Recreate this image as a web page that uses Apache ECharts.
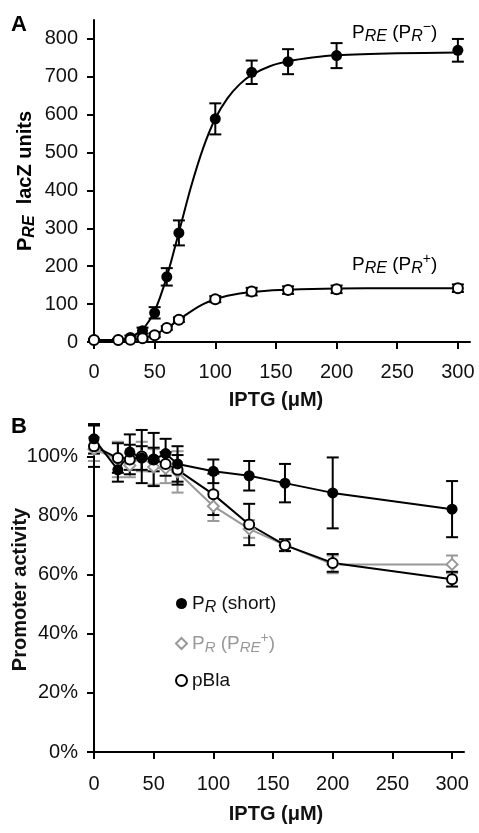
<!DOCTYPE html>
<html><head><meta charset="utf-8">
<script src="https://cdn.jsdelivr.net/npm/echarts@6/dist/echarts.min.js"></script>
<style>html,body{margin:0;padding:0;background:#fff}#c{width:479px;height:833px}</style>
</head><body><div id="c"></div>
<script>
// ---- data ----
const iptg = [0, 20, 30, 40, 50, 60, 70, 100, 130, 160, 200, 300];
const xTicks = [0, 50, 100, 150, 200, 250, 300];
const aTicks = [0, 100, 200, 300, 400, 500, 600, 700, 800];
const bTicks = [0, 20, 40, 60, 80, 100];
// Panel A: PRE lacZ units (measured points)
const preMinus = [5, 5, 12, 30, 77, 172, 288, 589, 712, 740, 756, 770];
const preMinusErr = [3, 3, 5, 8, 15, 23, 33, 41, 31, 33, 33, 30];
const prePlus = [5, 5, 6, 10, 18, 37, 59, 113, 133, 137, 139, 142];
const prePlusErr = [3, 3, 3, 4, 5, 5, 6, 8, 10, 10, 10, 10];
// Panel A: fitted curves
const fitX = [0, 10, 20, 30, 40, 50, 60, 70, 80, 90, 100, 110, 120, 130, 145, 160, 180, 200, 250, 300];
const fitMinus = [5, 5, 6, 13, 33, 82, 172, 290, 410, 512, 590, 643, 680, 705, 728, 741, 751, 757, 762, 764];
const fitPlus = [5, 5, 5, 6, 10, 20, 37, 59, 81, 100, 113, 122, 128, 132, 136, 138, 140, 141, 142, 142];
// Panel B: promoter activity (%)
const prShort = [106, 95.5, 101.5, 99.5, 99, 101, 97.5, 95, 93.5, 91, 87.7, 82.2];
const prShortErr = [5, 4, 6, 4, 4, 5, 6, 4, 5, 6.5, 12, 9.5];
const prPre = [102.5, 99, 97, 100, 96.5, 96, 94.8, 83.2, 75.5, 70, 63.5, 63.5];
const prPreErr = [4, 6, 4, 5, 6, 5, 7, 5, 3, 2, 3, 3];
const pBla = [103.5, 99.5, 99, 100, 99, 97.5, 95.5, 87.2, 77, 70, 64, 58.5];
const pBlaErr = [7, 5, 5, 9, 9, 4, 5, 7, 7, 2, 3, 2.5];

const FONT = "'Liberation Sans', Arial, sans-serif";
const TXT = '#111';
const GRAY = '#999';

const pts = v => iptg.map((x, i) => [x, v[i]]);
const fitPts = v => fitX.map((x, i) => [x, v[i]]);
const errs = (v, e) => iptg.map((x, i) => [x, v[i] - e[i], v[i] + e[i]]);

function errRender(color) {
  return function (params, api) {
    const x = api.value(0), lo = api.value(1), hi = api.value(2);
    const p1 = api.coord([x, hi]), p2 = api.coord([x, lo]);
    const w = 6;
    const st = { stroke: color, lineWidth: 2 };
    return {
      type: 'group', children: [
        { type: 'line', shape: { x1: p1[0], y1: p1[1], x2: p2[0], y2: p2[1] }, style: st },
        { type: 'line', shape: { x1: p1[0] - w, y1: p1[1], x2: p1[0] + w, y2: p1[1] }, style: st },
        { type: 'line', shape: { x1: p2[0] - w, y1: p2[1], x2: p2[0] + w, y2: p2[1] }, style: st }
      ]
    };
  };
}
function errSeries(idx, v, e, color, z) {
  return {
    type: 'custom', xAxisIndex: idx, yAxisIndex: idx, data: errs(v, e),
    encode: { x: 0, y: [1, 2] }, renderItem: errRender(color), z: z, silent: true
  };
}

function rich(size, sub, bold, color) {
  const w = bold ? 'bold' : 'normal';
  const o = { fontFamily: FONT, fontWeight: w };
  if (color) o.color = color;
  return {
    n: Object.assign({ fontSize: size, lineHeight: 26 }, o),
    s: Object.assign({ fontSize: sub, fontStyle: 'italic', lineHeight: sub, padding: [9, 0, 0, 0] }, o),
    p: Object.assign({ fontSize: sub - 2, lineHeight: sub - 2, padding: [0, 0, 11, 0] }, o)
  };
}

const axisCommon = {
  axisLine: { lineStyle: { color: '#000', width: 2 } },
  axisTick: { inside: false, length: 7, lineStyle: { color: '#000', width: 2 } },
  splitLine: { show: false },
  nameMoveOverlap: false
};

function xAx(idx, margin, nameGap, pad) {
  return Object.assign({}, axisCommon, {
    type: 'value', gridIndex: idx, min: 0, max: 310,
    axisTick: Object.assign({}, axisCommon.axisTick, { customValues: xTicks }),
    axisLabel: { customValues: xTicks, fontSize: 20, color: TXT, fontFamily: FONT, margin: margin },
    name: 'IPTG (\u03bcM)', nameLocation: 'middle', nameGap: nameGap,
    nameTextStyle: { fontSize: 20, fontWeight: 'bold', color: TXT, fontFamily: FONT, padding: pad }
  });
}

const option = {
  backgroundColor: '#fff',
  animation: false,
  grid: [
    { left: 94, top: 20, width: 376, height: 322, containLabel: false, outerBoundsMode: 'none' },
    { left: 94, top: 427, width: 370, height: 325, containLabel: false, outerBoundsMode: 'none' }
  ],
  xAxis: [xAx(0, 20, 48, [0, 12, 0, 0]), xAx(1, 22, 52, [0, 6, 0, 0])],
  yAxis: [
    Object.assign({}, axisCommon, {
      type: 'value', gridIndex: 0, min: 0, max: 850,
      axisTick: Object.assign({}, axisCommon.axisTick, { customValues: aTicks }),
      axisLabel: { customValues: aTicks, fontSize: 20, color: TXT, fontFamily: FONT, margin: 16 },
      name: '{n|P}{s|RE}{n|  lacZ units}', nameLocation: 'middle', nameGap: 56,
      nameTextStyle: { rich: rich(20, 16, true) }
    }),
    Object.assign({}, axisCommon, {
      type: 'value', gridIndex: 1, min: 0, max: 110,
      axisTick: Object.assign({}, axisCommon.axisTick, { customValues: bTicks }),
      axisLabel: { customValues: bTicks, fontSize: 20, color: TXT, fontFamily: FONT, margin: 16, formatter: '{value}%' },
      name: 'Promoter activity', nameLocation: 'middle', nameGap: 64,
      nameTextStyle: { fontSize: 20, fontWeight: 'bold', color: TXT, fontFamily: FONT }
    })
  ],
  legend: {
    left: 170, top: 586, orient: 'vertical', itemWidth: 11, itemHeight: 11, itemGap: 15,
    selectedMode: false,
    data: [
      { name: 'P_R (short)', icon: 'circle', textStyle: { color: TXT } },
      { name: 'P_R (P_RE+)', icon: 'diamond', textStyle: { color: GRAY } },
      { name: 'pBla', icon: 'circle', textStyle: { color: TXT } }
    ],
    formatter: function (name) {
      if (name === 'P_R (short)') return '{n|P}{s|R}{n| (short)}';
      if (name === 'P_R (P_RE+)') return '{g|P}{gs|R}{g| (P}{gs|RE}{gp|+}{g|)}';
      return '{n|pBla}';
    },
    textStyle: {
      fontSize: 19, fontFamily: FONT,
      rich: Object.assign(rich(19, 16, false, TXT), {
        g: { fontSize: 19, lineHeight: 26, color: GRAY, fontFamily: FONT },
        gs: { fontSize: 15, fontStyle: 'italic', lineHeight: 15, padding: [9, 0, 0, 0], color: GRAY, fontFamily: FONT },
        gp: { fontSize: 14, lineHeight: 14, padding: [0, 0, 11, 0], color: GRAY, fontFamily: FONT }
      })
    }
  },
  graphic: [
    { type: 'text', left: 11, top: 14, style: { text: 'A', fontSize: 22, fontWeight: 'bold', fill: '#000', fontFamily: FONT } },
    { type: 'text', left: 11, top: 416, style: { text: 'B', fontSize: 22, fontWeight: 'bold', fill: '#000', fontFamily: FONT } },
    { type: 'text', left: 352, top: 20, style: { text: '{n|P}{s|RE}{n| (P}{s|R}{p|\u2212}{n|)}', rich: rich(19, 16, false, TXT) } },
    { type: 'text', left: 352, top: 252, style: { text: '{n|P}{s|RE}{n| (P}{s|R}{p|+}{n|)}', rich: rich(19, 16, false, TXT) } }
  ],
  series: [
    // Panel A
    errSeries(0, preMinus, preMinusErr, '#000', 2),
    errSeries(0, prePlus, prePlusErr, '#000', 2),
    { type: 'line', name: 'fitMinus', xAxisIndex: 0, yAxisIndex: 0, data: fitPts(fitMinus), smooth: 0.3,
      showSymbol: false, lineStyle: { color: '#000', width: 2 }, z: 3, silent: true },
    { type: 'line', name: 'fitPlus', xAxisIndex: 0, yAxisIndex: 0, data: fitPts(fitPlus), smooth: 0.3,
      showSymbol: false, lineStyle: { color: '#000', width: 2 }, z: 3, silent: true },
    { type: 'scatter', name: 'PRE (PR-)', xAxisIndex: 0, yAxisIndex: 0, data: pts(preMinus), symbol: 'circle', symbolSize: 11,
      itemStyle: { color: '#000', opacity: 1 }, z: 5 },
    { type: 'scatter', name: 'PRE (PR+)', xAxisIndex: 0, yAxisIndex: 0, data: pts(prePlus), symbol: 'circle', symbolSize: 10,
      itemStyle: { color: '#fff', borderColor: '#000', borderWidth: 2, opacity: 1 }, z: 6 },
    // Panel B
    errSeries(1, prPre, prPreErr, GRAY, 2),
    errSeries(1, pBla, pBlaErr, '#000', 2),
    errSeries(1, prShort, prShortErr, '#000', 2),
    { type: 'line', name: 'linePre', xAxisIndex: 1, yAxisIndex: 1, data: pts(prPre), showSymbol: false,
      lineStyle: { color: GRAY, width: 2 }, z: 3, silent: true },
    { type: 'line', name: 'lineBla', xAxisIndex: 1, yAxisIndex: 1, data: pts(pBla), showSymbol: false,
      lineStyle: { color: '#000', width: 2 }, z: 3, silent: true },
    { type: 'line', name: 'lineShort', xAxisIndex: 1, yAxisIndex: 1, data: pts(prShort), showSymbol: false,
      lineStyle: { color: '#000', width: 2 }, z: 3, silent: true },
    { type: 'scatter', name: 'P_R (P_RE+)', xAxisIndex: 1, yAxisIndex: 1, data: pts(prPre), symbol: 'diamond', symbolSize: 11,
      itemStyle: { color: '#fff', borderColor: GRAY, borderWidth: 2, opacity: 1 }, z: 5 },
    { type: 'scatter', name: 'pBla', xAxisIndex: 1, yAxisIndex: 1, data: pts(pBla), symbol: 'circle', symbolSize: 10,
      itemStyle: { color: '#fff', borderColor: '#000', borderWidth: 2, opacity: 1 }, z: 6 },
    { type: 'scatter', name: 'P_R (short)', xAxisIndex: 1, yAxisIndex: 1, data: pts(prShort), symbol: 'circle', symbolSize: 11,
      itemStyle: { color: '#000', opacity: 1 }, z: 7 }
  ]
};
const chart = echarts.init(document.getElementById('c'), null, { renderer: 'canvas' });
chart.setOption(option);
</script>
</body></html>
